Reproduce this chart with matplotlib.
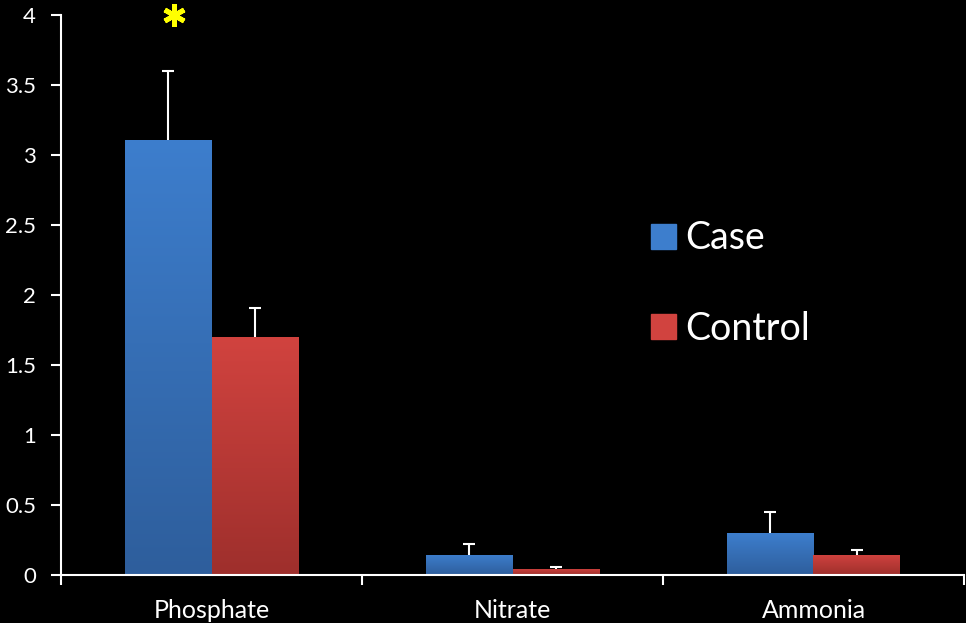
import matplotlib
matplotlib.use("Agg")
import matplotlib.pyplot as plt
import numpy as np
from matplotlib.colors import LinearSegmentedColormap

categories = ["Phosphate", "Nitrate", "Ammonia"]
case_vals = [3.11, 0.143, 0.30]
case_err = [0.49, 0.08, 0.15]
control_vals = [1.70, 0.043, 0.143]
control_err = [0.21, 0.012, 0.035]
series = ["Case", "Control"]
yticks = [0, 0.5, 1, 1.5, 2, 2.5, 3, 3.5, 4]
ytick_labels = ["0", "0.5", "1", "1.5", "2", "2.5", "3", "3.5", "4"]

plt.rcParams['font.family'] = ['Lato', 'DejaVu Sans']

fig = plt.figure(figsize=(9.66, 6.23), dpi=100, facecolor="black")
ax = fig.add_axes([61/966, 48/623, 903/966, 560/623], facecolor="black")

x = np.arange(len(categories))
w = 0.289
blue_top, blue_bot = "#3D7ECD", "#2E5E9C"
red_top, red_bot = "#D1433F", "#9E2F2C"

bars_case = ax.bar(x - w/2, case_vals, w, color=blue_top, label=series[0], zorder=2)
bars_ctrl = ax.bar(x + w/2, control_vals, w, color=red_top, label=series[1], zorder=2)

def gradient(bars, top, bot):
    cmap = LinearSegmentedColormap.from_list("g", [bot, top])
    grad = np.linspace(0, 1, 256).reshape(-1, 1)
    for b in bars:
        x0, y0 = b.get_x(), b.get_y()
        x1, y1 = x0 + b.get_width(), y0 + b.get_height()
        im = ax.imshow(grad, cmap=cmap, aspect="auto", origin="lower",
                       extent=[x0, x1, y0, y1], zorder=2.1)
        im.set_clip_path(b)

gradient(bars_case, blue_top, blue_bot)
gradient(bars_ctrl, red_top, red_bot)

for xs, vals, errs in [(x - w/2, case_vals, case_err), (x + w/2, control_vals, control_err)]:
    eb = ax.errorbar(xs, vals, yerr=[np.zeros(3), errs], fmt="none",
                     ecolor="white", elinewidth=1.5, capsize=4.5, capthick=1.5, zorder=3)
    eb[1][0].set_visible(False)

ax.plot([x[0] - w/2 + 0.02], [4.0], marker=(6, 2, 0), markersize=16, mew=3.5,
        color="#FFFF00", clip_on=False, zorder=5)

ax.set_xlim(-0.5, 2.5)
ax.set_ylim(0, 4)
ax.set_yticks(yticks)
ax.set_yticklabels(ytick_labels)
ax.set_xticks(x)
ax.set_xticklabels(categories)
ax.set_xticks([-0.5, 0.5, 1.5, 2.5], minor=True)
ax.tick_params(axis="x", which="major", length=0, pad=17, labelsize=18, colors="white")
ax.tick_params(axis="x", which="minor", length=7, width=1.5, color="white", direction="out")
ax.tick_params(axis="y", length=7, width=1.5, color="white", labelcolor="white",
               labelsize=16, pad=11)
for s in ["top", "right"]:
    ax.spines[s].set_visible(False)
for s in ["left", "bottom"]:
    ax.spines[s].set_color("white")
    ax.spines[s].set_linewidth(1.5)

leg = ax.legend(loc="upper left", bbox_to_anchor=(0.637, 0.66), frameon=False,
                fontsize=27, labelcolor="white", handlelength=0.65, handleheight=0.65,
                handletextpad=0.25, labelspacing=1.45, borderaxespad=0)
leg.legend_handles[0].set_color(blue_top)
leg.legend_handles[1].set_color(red_top)

fig.savefig("out.png", dpi=100, facecolor="black")
